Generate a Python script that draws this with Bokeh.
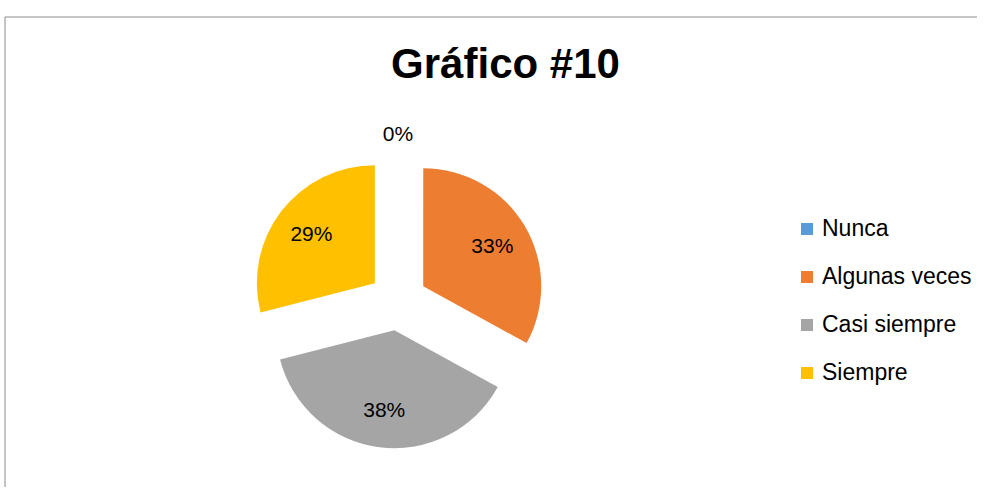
import math
from bokeh.plotting import figure
from bokeh.models import (ColumnDataSource, Range1d, Label, Legend, LegendItem,
                          BoxAnnotation)
from bokeh.core.properties import value
from bokeh.embed import file_html
from bokeh.resources import INLINE

# ---- data ----
categories = ["Nunca", "Algunas veces", "Casi siempre", "Siempre"]
percents = [0, 33, 38, 29]
colors = ["#5B9BD5", "#ED7D31", "#A5A5A5", "#FFC000"]
title_text = "Gráfico #10"

# ---- layout (page pixels -> data units 1:1, y upward) ----
W, H = 977, 487
def dy(page_y):
    return H - page_y

CX, CY = 397.5, dy(300.6)   # pie centre
R = 118                     # radius (px)
EXPLODE = 29.3              # explosion distance (px)
FONT = "Liberation Sans"

total = float(sum(percents))
xs, ys, starts, ends, radii, lx, ly, ltxt = [], [], [], [], [], [], [], []
cum = 0.0
for v in percents:
    t1 = cum / total * 2 * math.pi
    t2 = (cum + v) / total * 2 * math.pi
    cum += v
    mid = (t1 + t2) / 2
    cx = CX + EXPLODE * math.sin(mid)
    cy = CY + EXPLODE * math.cos(mid)
    xs.append(cx)
    ys.append(cy)
    starts.append(math.pi / 2 - t2)
    ends.append(math.pi / 2 - t1)
    radii.append(R if v > 0 else 0)
    lr = R * 1.17 if v == 0 else R * 0.68
    lx.append(cx + lr * math.sin(mid))
    ly.append(cy + lr * math.cos(mid) + 0.3)
    ltxt.append(f"{round(v / total * 100)}%")

src = ColumnDataSource(dict(x=xs, y=ys, start=starts, end=ends, rad=radii,
                            color=colors, cat=categories))
lsrc = ColumnDataSource(dict(x=lx, y=ly, text=ltxt))

p = figure(width=W, height=H, output_backend="svg", toolbar_location=None,
           x_range=Range1d(0, W), y_range=Range1d(0, H),
           min_border=0, min_border_left=0, min_border_right=0,
           min_border_top=0, min_border_bottom=0)
p.axis.visible = False
p.xgrid.visible = False
p.ygrid.visible = False
p.outline_line_color = None
p.background_fill_color = "white"
p.border_fill_color = "white"

r = p.wedge(x="x", y="y", radius="rad", radius_units="screen",
            start_angle="start", end_angle="end", direction="anticlock",
            fill_color="color", line_color=None, source=src)

p.text(x="x", y="y", text="text", source=lsrc, text_align="center",
       text_baseline="alphabetic", text_font=value(FONT),
       text_font_size="21px", text_color="black")

p.add_layout(Label(x=505, y=dy(79.3 - 16.5), text=title_text,
                   text_align="center", text_baseline="alphabetic",
                   text_font=FONT, text_font_size="42px",
                   text_font_style="bold", text_color="black"))

# chart frame border (only top and left edges fall inside the window)
p.add_layout(BoxAnnotation(left=4.5, right=W + 20, top=dy(16.5), bottom=-20,
                           fill_alpha=0, line_color="#8c8c8c", line_width=1,
                           line_alpha=1))

items = [LegendItem(label=c, renderers=[r], index=i)
         for i, c in enumerate(categories)]
legend = Legend(items=items, location=(799, 101),
                glyph_width=15, glyph_height=15, label_standoff=8,
                label_text_font=FONT, label_text_font_size="23px",
                label_text_color="black",
                label_height=26, spacing=21, padding=0, margin=0,
                border_line_color=None, background_fill_alpha=0)
p.add_layout(legend)

open("out.html", "w").write(file_html(p, INLINE))
